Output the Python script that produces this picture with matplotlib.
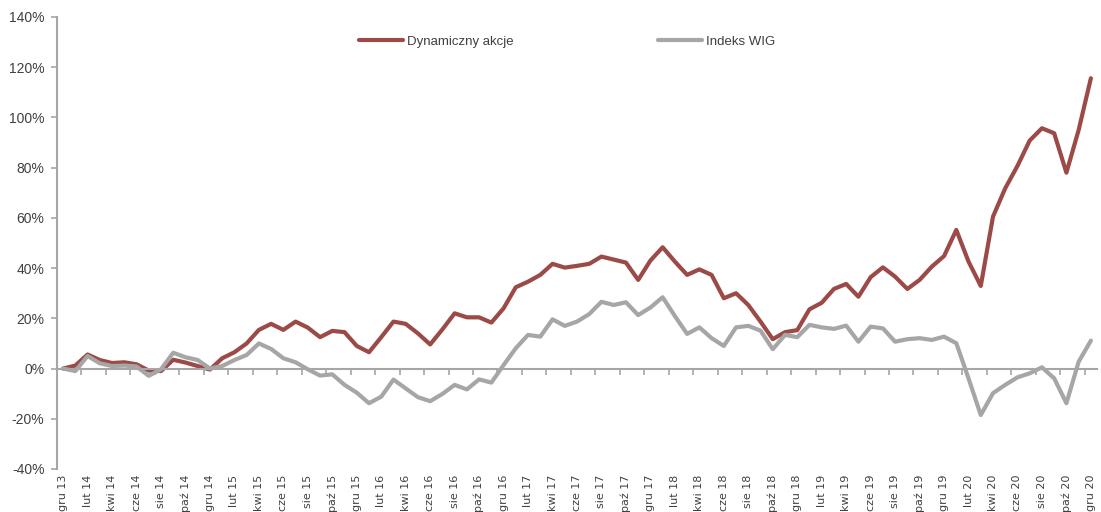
import numpy as np
import matplotlib
matplotlib.use("Agg")
import matplotlib.pyplot as plt
from matplotlib.ticker import FuncFormatter

# Dane (miesieczne, gru 13 - gru 20), w %
dynamiczny = [0, 1.2, 5.6, 3.4, 2.2, 2.5, 1.7, -0.8, -1.0, 3.5,
              2.4, 1.0, -0.4, 4.1, 6.5, 10.0, 15.4, 17.8, 15.4, 18.7,
              16.3, 12.5, 15.0, 14.5, 9.0, 6.5, 12.5, 18.7, 17.8, 14.0,
              9.6, 15.6, 22.0, 20.4, 20.4, 18.3, 24.0, 32.4, 34.6, 37.3,
              41.7, 40.2, 40.9, 41.7, 44.6, 43.4, 42.2, 35.3, 43.0, 48.3,
              42.6, 37.3, 39.5, 37.3, 28.0, 30.0, 25.3, 18.7, 11.7, 14.5,
              15.3, 23.6, 26.2, 31.7, 33.7, 28.6, 36.4, 40.3, 36.6, 31.7,
              35.3, 40.6, 44.8, 55.2, 42.6, 32.9, 60.5, 71.8, 80.7, 90.8,
              95.7, 93.7, 78.0, 95.0, 115.6]
wig = [0, -1.0, 5.0, 2.1, 1.0, 1.2, 0.8, -2.9, -0.3, 6.3,
       4.5, 3.4, 0.0, 1.0, 3.4, 5.4, 10.0, 7.8, 4.1, 2.5,
       -0.3, -2.8, -2.3, -6.5, -9.6, -13.8, -11.2, -4.4, -7.9, -11.4,
       -13.0, -10.1, -6.5, -8.3, -4.3, -5.6, 1.4, 8.1, 13.4, 12.7,
       19.6, 17.0, 18.7, 21.7, 26.6, 25.3, 26.4, 21.3, 24.3, 28.4,
       20.9, 13.8, 16.4, 12.1, 9.0, 16.4, 17.0, 15.1, 7.7, 13.4,
       12.5, 17.4, 16.4, 15.8, 17.1, 10.7, 16.7, 16.0, 10.7, 11.7,
       12.1, 11.4, 12.7, 10.1, -3.9, -18.5, -9.8, -6.5, -3.5, -1.9,
       0.5, -3.9, -13.8, 2.7, 11.1]

# Etykiety osi X (co drugi miesiac)
etykiety = ["gru 13", "lut 14", "kwi 14", "cze 14", "sie 14", "paź 14",
            "gru 14", "lut 15", "kwi 15", "cze 15", "sie 15", "paź 15",
            "gru 15", "lut 16", "kwi 16", "cze 16", "sie 16", "paź 16",
            "gru 16", "lut 17", "kwi 17", "cze 17", "sie 17", "paź 17",
            "gru 17", "lut 18", "kwi 18", "cze 18", "sie 18", "paź 18",
            "gru 18", "lut 19", "kwi 19", "cze 19", "sie 19", "paź 19",
            "gru 19", "lut 20", "kwi 20", "cze 20", "sie 20", "paź 20",
            "gru 20"]

kolor_czerwony = "#9b4a48"
kolor_szary = "#a6a6a6"
kolor_tekstu = "#404040"

plt.rcParams['font.family'] = ['Liberation Sans', 'DejaVu Sans']

fig = plt.figure(figsize=(11.01, 5.12), dpi=100)
ax = fig.add_axes([57 / 1101, 43 / 512, 1040 / 1101, 452 / 512])

x = np.arange(len(dynamiczny))
ax.plot(x, dynamiczny, color=kolor_czerwony, lw=3.0, label="Dynamiczny akcje",
        solid_capstyle='round', solid_joinstyle='round')
ax.plot(x, wig, color=kolor_szary, lw=3.0, label="Indeks WIG",
        solid_capstyle='round', solid_joinstyle='round')

ax.set_xlim(-0.5, len(x) - 0.5)
ax.set_ylim(-40, 140)
ax.set_yticks(np.arange(-40, 141, 20))
ax.yaxis.set_major_formatter(FuncFormatter(lambda v, p: f"{v:.0f}%"))

# Os X na poziomie zera
ax.spines['top'].set_visible(False)
ax.spines['right'].set_visible(False)
ax.spines['bottom'].set_position(('data', 0))
ax.spines['bottom'].set_color(kolor_szary)
ax.spines['bottom'].set_linewidth(1.5)
ax.spines['left'].set_color(kolor_szary)
ax.spines['left'].set_linewidth(1.5)

ax.set_xticks(np.arange(-0.5, len(x), 2))
ax.set_xticklabels([])
ax.tick_params(axis='x', direction='out', length=4, width=1.2, color=kolor_szary)
ax.tick_params(axis='y', direction='out', length=4, width=1.2, color=kolor_szary,
               labelsize=10, labelcolor=kolor_tekstu, pad=5)

# Etykiety miesiecy na dole wykresu
poz = np.arange(0, len(x), 2)
for p, t in zip(poz, etykiety):
    ax.text(p, -0.012, t, transform=ax.get_xaxis_transform(), rotation=90,
            ha='center', va='top', fontsize=8, color=kolor_tekstu,
            family=['Liberation Sans Narrow', 'DejaVu Sans Condensed', 'DejaVu Sans'],
            clip_on=False)

leg = ax.legend(loc='upper center', bbox_to_anchor=(0.4904, 0.985), ncol=2, frameon=False,
                fontsize=9.5, handlelength=3.3, handletextpad=0.3, columnspacing=11)
for t in leg.get_texts():
    t.set_color(kolor_tekstu)

fig.savefig("out.png", dpi=100)
